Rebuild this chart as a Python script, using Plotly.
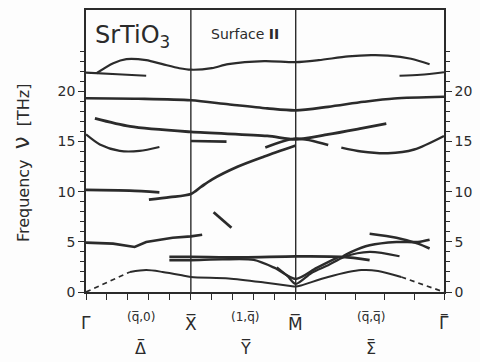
import plotly.graph_objects as go
import math

S2 = math.sqrt(2)
GX, XM, MG = 1.0, 2.0, 2.0 + S2

# ---- phonon branches: q (path coordinate) and nu (THz) ----
a_q = [0.10, 0.26, 0.385, 0.574, 0.73, 0.89, 1.0, 1.2, 1.356, 1.7, 2.0, 2.22, 2.5, 2.72, 2.88, 3.10, 3.277]
a_nu = [21.8, 22.8, 23.2, 23.1, 22.7, 22.3, 22.15, 22.3, 22.7, 23.0, 22.9, 23.1, 23.47, 23.6, 23.56, 23.24, 22.7]

b_q = [0.0, 0.3, 0.574]
b_nu = [21.85, 21.7, 21.55]

b2_q = [2.99, 3.19, 3.414]
b2_nu = [21.55, 21.65, 21.9]

c_q = [0.0, 0.5, 1.0, 1.356, 1.728, 2.0, 2.309, 2.65, 2.94, 3.414]
c_nu = [19.3, 19.25, 19.1, 18.7, 18.3, 18.1, 18.45, 18.95, 19.28, 19.45]

d_q = [0.085, 0.42, 1.0, 1.728, 2.0, 2.309, 2.626, 2.864]
d_nu = [17.3, 16.5, 15.95, 15.55, 15.2, 15.7, 16.3, 16.77]

e_q = [0.0, 0.132, 0.322, 0.511, 0.70]
e_nu = [15.7, 14.7, 14.06, 14.06, 14.45]

f_q = [1.0, 1.34]
f_nu = [15.05, 14.98]

g_q = [0.6, 0.8, 1.0, 1.1, 1.2, 1.45, 1.7, 2.0]
g_nu = [9.2, 9.45, 9.77, 10.5, 11.2, 12.5, 13.5, 14.6]

h_q = [1.71, 2.0, 2.31]
h_nu = [14.4, 15.3, 14.65]

i_q = [2.435, 2.626, 2.88, 3.13, 3.414]
i_nu = [14.39, 14.0, 13.83, 14.2, 15.55]

j_q = [0.0, 0.416, 0.70]
j_nu = [10.17, 10.1, 9.93]

k_q = [1.217, 1.387]
k_nu = [7.95, 6.4]

l_q = [0.0, 0.258, 0.464, 0.574, 0.826, 1.0, 1.108]
l_nu = [4.92, 4.82, 4.49, 4.98, 5.41, 5.54, 5.71]

m1_q = [0.795, 1.0, 1.5, 2.0, 2.45, 2.705]
m1_nu = [3.5, 3.5, 3.45, 3.55, 3.5, 3.17]

m2_q = [0.795, 1.0, 1.3, 1.6, 1.8, 2.0, 2.2, 2.40]
m2_nu = [3.17, 3.17, 3.25, 3.2, 2.4, 1.3, 2.4, 3.45]

m3_q = [1.82, 1.92, 2.0, 2.15, 2.309, 2.464, 2.705, 2.99]
m3_nu = [2.45, 1.6, 0.8, 1.9, 2.67, 3.5, 3.99, 3.56]

p_q = [2.45, 2.531, 2.705, 2.96, 3.166, 3.277]
p_nu = [3.55, 4.0, 4.65, 4.98, 4.98, 5.2]

q_q = [2.705, 2.96, 3.166, 3.277]
q_nu = [5.8, 5.41, 4.82, 4.33]

low_q = [0.42, 0.574, 0.73, 0.9, 1.0, 1.36, 1.7, 1.95, 2.0, 2.05, 2.309, 2.626, 2.785, 3.007]
low_nu = [2.0, 2.18, 2.0, 1.7, 1.5, 1.35, 0.95, 0.6, 0.55, 0.65, 1.5, 2.18, 2.1, 1.5]

acl_q = [0.0, 0.42]
acl_nu = [0.0, 2.0]

acr_q = [3.007, 3.414]
acr_nu = [1.5, 0.0]

# ---- axis ticks / labels ----
y_major = [0, 5, 10, 15, 20]
y_minor = list(range(0, 25))
x_ticks = [0, 0.2, 0.4, 0.6, 0.8, 1.0, 1.2, 1.4, 1.6, 1.8, 2.0] + [2.0 + S2 * k / 5 for k in range(1, 6)]
point_labels = ["Γ", "X\u0305", "M\u0305", "Γ"]
point_bar = [False, False, False, True]
point_q = [0.0, GX, XM, MG]
dir_labels = ["(q\u0305,0)", "(1,q\u0305)", "(q\u0305,q\u0305)"]
dir_names = ["Δ", "Y\u0305", "Σ"]
dir_bar = [True, False, True]
dir_q = [0.52, 1.52, 2.72]

INK = "#2b2b2b"
FONT = "DejaVu Sans, sans-serif"

fig = go.Figure()

def add(q, nu, w=2.2, dash=None, shape="spline"):
    fig.add_trace(go.Scatter(x=q, y=nu, mode="lines",
                             line=dict(color=INK, width=w, shape=shape, smoothing=0.8, dash=dash),
                             hoverinfo="skip", showlegend=False))

add(a_q, a_nu, 2.2)
add(b_q, b_nu, 2.2)
add(b2_q, b2_nu, 2.2)
add(c_q, c_nu, 2.6)
add(d_q, d_nu, 2.8)
add(e_q, e_nu, 2.2)
add(f_q, f_nu, 2.6)
add(g_q, g_nu, 2.8)
add(h_q, h_nu, 2.6)
add(i_q, i_nu, 2.4)
add(j_q, j_nu, 2.8)
add(k_q, k_nu, 2.8)
add(l_q, l_nu, 2.6, shape="linear")
add(m1_q, m1_nu, 2.8)
add(m2_q, m2_nu, 2.4)
add(m3_q, m3_nu, 2.2)
add(p_q, p_nu, 2.6)
add(q_q, q_nu, 2.6)
add(low_q, low_nu, 2.0)
add(acl_q, acl_nu, 1.7, dash="5px,4px", shape="linear")
add(acr_q, acr_nu, 1.7, dash="5px,4px", shape="linear")

# invisible trace to activate the right-hand axis
fig.add_trace(go.Scatter(x=[0], y=[0], yaxis="y2", mode="markers",
                         marker=dict(opacity=0), hoverinfo="skip", showlegend=False))

for qv in [GX, XM]:
    fig.add_shape(type="line", x0=qv, x1=qv, y0=0, y1=1, xref="x", yref="paper",
                  line=dict(color=INK, width=1.4))

ann = []
for lab, bar, qv in zip(point_labels, point_bar, point_q):
    ann.append(dict(x=qv, y=-0.11, xref="x", yref="paper", text=lab, showarrow=False,
                    font=dict(size=17, color=INK, family=FONT), xanchor="center", yanchor="middle"))
    if bar:
        ann.append(dict(x=qv, y=-0.11, xref="x", yref="paper", text="\u2013", showarrow=False,
                        font=dict(size=17, color=INK, family=FONT), xanchor="center",
                        yanchor="middle", yshift=10))
for lab, bar, nm, qv in zip(dir_labels, dir_bar, dir_names, dir_q):
    ann.append(dict(x=qv, y=-0.09, xref="x", yref="paper", text=lab, showarrow=False,
                    font=dict(size=12, color=INK, family=FONT), xanchor="center", yanchor="middle"))
    ann.append(dict(x=qv, y=-0.20, xref="x", yref="paper", text=nm, showarrow=False,
                    font=dict(size=16, color=INK, family=FONT), xanchor="center", yanchor="middle"))
    if bar:
        ann.append(dict(x=qv, y=-0.20, xref="x", yref="paper", text="\u2013", showarrow=False,
                        font=dict(size=16, color=INK, family=FONT), xanchor="center",
                        yanchor="middle", yshift=10))
ann.append(dict(x=0.0, y=0.905, xref="x", yref="paper", text="SrTiO<sub>3</sub>", showarrow=False,
                font=dict(size=24, color=INK, family=FONT), xanchor="left", yanchor="middle", xshift=7))
ann.append(dict(x=1.52, y=0.915, xref="x", yref="paper", text="Surface <b>II</b>", showarrow=False,
                font=dict(size=14, color=INK, family=FONT), xanchor="center", yanchor="middle"))
ann.append(dict(x=-0.182, y=0.46, xref="paper", yref="paper",
                text="Frequency  <span style='font-size:23px'>ν</span>  [THz]",
                showarrow=False, textangle=-90, xanchor="center", yanchor="middle",
                font=dict(size=16, color=INK, family=FONT)))

fig.update_layout(
    width=480, height=362,
    margin=dict(l=86, r=32, t=8, b=70),
    paper_bgcolor="#fdfdfd", plot_bgcolor="#fdfdfd",
    annotations=ann,
    xaxis=dict(range=[0, MG], showgrid=False, zeroline=False, showline=True, linecolor=INK,
               linewidth=1.6, mirror=True, ticks="outside", ticklen=6, tickwidth=1.4,
               tickcolor=INK, tickvals=x_ticks, showticklabels=False),
    yaxis=dict(range=[0, 28.1], showgrid=False, zeroline=False, showline=True, linecolor=INK,
               linewidth=1.6, ticks="outside", ticklen=6, tickwidth=1.4, tickcolor=INK,
               tickvals=y_major, ticktext=[str(v) for v in y_major],
               tickfont=dict(size=14, color=INK, family=FONT),
               minor=dict(tickvals=y_minor, ticklen=4, tickwidth=1.2, tickcolor=INK, ticks="outside")),
    yaxis2=dict(range=[0, 28.1], overlaying="y", side="right", anchor="x", showgrid=False,
                zeroline=False, showline=True, linecolor=INK, linewidth=1.6, ticks="outside",
                ticklen=6, tickwidth=1.4, tickcolor=INK, tickvals=y_major,
                ticktext=[str(v) for v in y_major],
                tickfont=dict(size=14, color=INK, family=FONT),
                minor=dict(tickvals=y_minor, ticklen=4, tickwidth=1.2, tickcolor=INK, ticks="outside")),
)

fig.write_html("out.html", config={"displayModeBar": False},
               post_script="document.body.style.margin='0';document.body.style.overflow='hidden';")
